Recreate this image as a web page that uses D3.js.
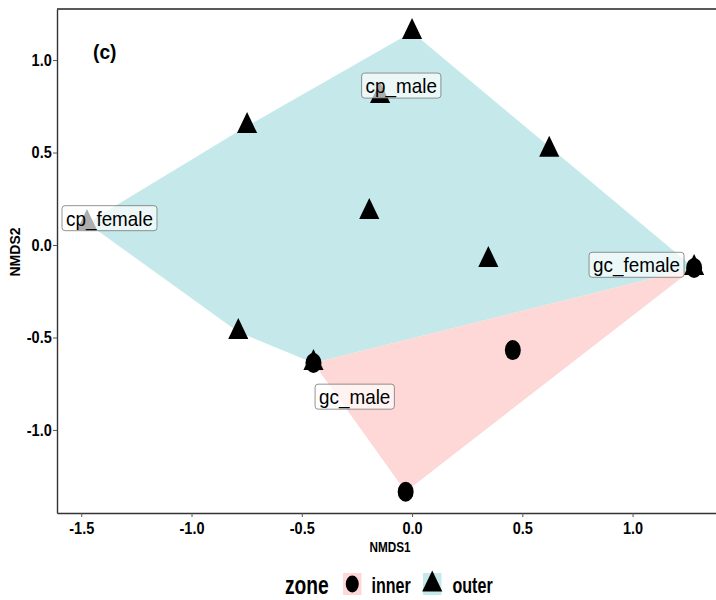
<!DOCTYPE html>
<html>
<head>
<meta charset="utf-8">
<script src="https://cdn.jsdelivr.net/npm/d3@7"></script>
<style>
  html, body { margin: 0; padding: 0; background: #fff; }
  svg { display: block; font-family: "Liberation Sans", Arial, sans-serif; }
</style>
</head>
<body>
<svg id="chart" width="716" height="600"></svg>
<script>
// ---- data ----
const outerX = [0.000, -0.145, -0.748, -0.194, 0.622, 0.346, 1.279, -0.788, -0.447, -1.474];
const outerY = [1.151, 0.805, 0.643, 0.178, 0.515, -0.081, -0.124, -0.470, -0.638, 0.119];
const innerX = [0.457, -0.029, 1.279, -0.447];
const innerY = [-0.568, -1.334, -0.124, -0.638];
const labelText = ["cp_male", "cp_female", "gc_female", "gc_male"];
const labelX = [-0.049, -1.372, 1.018, -0.260];
const labelY = [0.862, 0.145, -0.107, -0.820];
const xTicks = [-1.5, -1.0, -0.5, 0.0, 0.5, 1.0];
const yTicks = [-1.0, -0.5, 0.0, 0.5, 1.0];
const zones = ["inner", "outer"];

// ---- layout ----
const svg = d3.select("#chart");
const x = d3.scaleLinear().domain([-1.610, 1.410]).range([57, 723]);
const y = d3.scaleLinear().domain([-1.449, 1.276]).range([513, 9]);
const fillCol = { inner: "#fdd8d6", outer: "#c5e9ea" };
const fmt = d => d.toFixed(1);

const outerPts = outerX.map((v, i) => [x(v), y(outerY[i])]);
const innerPts = innerX.map((v, i) => [x(v), y(innerY[i])]);

// hulls
const hullLine = d3.line().curve(d3.curveLinearClosed);
svg.append("path").attr("d", hullLine(d3.polygonHull(outerPts))).attr("fill", fillCol.outer);
svg.append("path").attr("d", hullLine(d3.polygonHull(innerPts))).attr("fill", fillCol.inner);

// points
const sx = 0.83;
const tri = d3.symbol().type(d3.symbolTriangle).size(255);
svg.append("g").selectAll("ellipse").data(innerPts).join("ellipse")
  .attr("cx", d => d[0]).attr("cy", d => d[1]).attr("rx", 8).attr("ry", 10).attr("fill", "#000");
svg.append("g").selectAll("path").data(outerPts).join("path")
  .attr("d", tri())
  .attr("transform", d => `translate(${d[0]},${d[1]}) scale(${sx},1)`)
  .attr("fill", "#000");

// labels
const lab = svg.append("g").selectAll("g").data(labelText).join("g")
  .attr("transform", (d, i) => `translate(${x(labelX[i])},${y(labelY[i])})`);
const lsx = 0.92;
lab.each(function(d) {
  const g = d3.select(this);
  const rect = g.append("rect");
  const t = g.append("text").text(d)
    .attr("font-size", 20.5).attr("text-anchor", "middle")
    .attr("y", 7.5).attr("fill", "#000")
    .attr("transform", `scale(${lsx},1)`);
  const w = t.node().getComputedTextLength() * lsx + 8;
  rect.attr("x", -w / 2).attr("y", -12.5).attr("width", w).attr("height", 25)
    .attr("rx", 3).attr("fill", "#fff").attr("fill-opacity", 0.68)
    .attr("stroke", "#666").attr("stroke-width", 0.7);
});

// panel top border
svg.append("line").attr("x1", 57).attr("x2", 723).attr("y1", 9).attr("y2", 9)
  .attr("stroke", "#222").attr("stroke-width", 1.6);

// axes
const tsx = 0.88;
const yAxis = svg.append("g").attr("transform", "translate(57,0)")
  .call(d3.axisLeft(y).tickValues(yTicks).tickFormat(fmt).tickSize(4).tickSizeOuter(0).tickPadding(2));
const xAxis = svg.append("g").attr("transform", "translate(0,513)")
  .call(d3.axisBottom(x).tickValues(xTicks).tickFormat(fmt).tickSize(4).tickSizeOuter(0).tickPadding(5));
[yAxis, xAxis].forEach(a => {
  a.select(".domain").attr("stroke", "#333").attr("stroke-width", 1.4);
  a.selectAll(".tick line").attr("stroke", "#555").attr("stroke-width", 1);
  a.selectAll(".tick text").attr("fill", "#000").attr("font-size", 16.5).attr("font-weight", "bold")
    .attr("font-family", "'Liberation Sans', Arial, sans-serif")
    .attr("transform", `scale(${tsx},1)`);
});

// axis titles
svg.append("text").text("NMDS1").attr("font-size", 14).attr("font-weight", "bold")
  .attr("text-anchor", "middle")
  .attr("transform", "translate(390,551.5) scale(0.84,1)");
svg.append("text").text("NMDS2").attr("font-size", 14).attr("font-weight", "bold")
  .attr("text-anchor", "middle")
  .attr("transform", "translate(20,252) rotate(-90)");

// panel tag
svg.append("text").text("(c)").attr("font-size", 20).attr("font-weight", "bold")
  .attr("transform", "translate(93,58.5) scale(0.96,1)");

// legend
const leg = svg.append("g");
leg.append("text").text("zone").attr("font-size", 26).attr("font-weight", "bold")
  .attr("transform", "translate(285,593.5) scale(0.74,1)");
const keyX = [343, 423];
const textX = [371.5, 452.5];
zones.forEach((z, i) => {
  leg.append("rect").attr("x", keyX[i]).attr("y", 573).attr("width", 18.5).attr("height", 22)
    .attr("fill", fillCol[z]);
  const cx = keyX[i] + 9.25, cy = 584;
  if (z === "inner") {
    leg.append("ellipse").attr("cx", cx).attr("cy", cy).attr("rx", 6.5).attr("ry", 8.5).attr("fill", "#000");
  } else {
    leg.append("path").attr("d", tri()).attr("fill", "#000")
      .attr("transform", `translate(${cx},${cy + 0.5}) scale(${sx},1)`);
  }
  leg.append("text").text(z).attr("font-size", 22).attr("font-weight", "bold")
    .attr("transform", `translate(${textX[i]},592.5) scale(0.73,1)`);
});
</script>
</body>
</html>
